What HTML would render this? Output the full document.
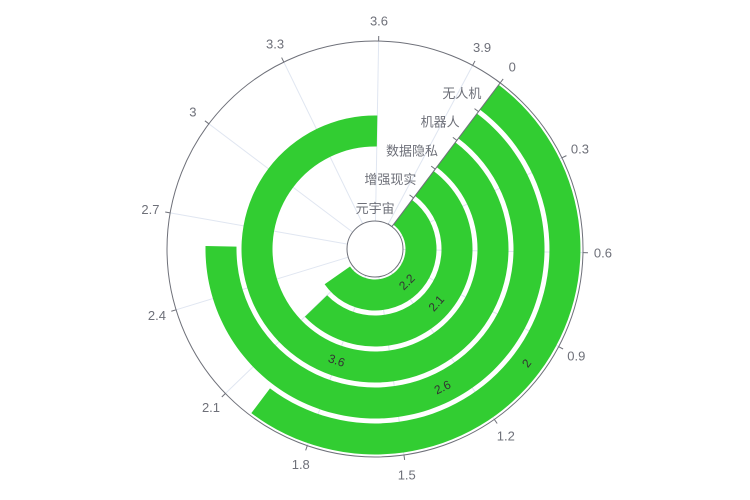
<!DOCTYPE html>
<html><head><meta charset="utf-8"><style>
body{margin:0;background:#fff;}
svg{display:block;font-family:"Liberation Sans","Noto Sans CJK SC",sans-serif;}
</style></head><body>
<svg id="chart" width="750" height="500" viewBox="0 0 750 500"></svg>
<script>
const categories = ['元宇宙','增强现实','数据隐私','机器人','无人机'];
const values = [2.2, 2.1, 3.6, 2.6, 2];
const angleTicks = [0,0.3,0.6,0.9,1.2,1.5,1.8,2.1,2.4,2.7,3,3.3,3.6,3.9];
const angleMax = 4;

const NS='http://www.w3.org/2000/svg';
const svg=document.getElementById('chart');
const cx=375, cy=249, r0=28, R=208, start=37;
const band=(R-r0)/categories.length;
function ang(v){return start+v/angleMax*360;}
function pt(r,deg){const t=deg*Math.PI/180;return [cx+r*Math.sin(t), cy-r*Math.cos(t)];}
function mk(tag,attrs,parent){const e=document.createElementNS(NS,tag);for(const k in attrs)e.setAttribute(k,attrs[k]);(parent||svg).appendChild(e);return e;}

angleTicks.forEach(v=>{
  const a=pt(r0,ang(v)), b=pt(R,ang(v));
  const l=mk('line',{x1:a[0],y1:a[1],x2:b[0],y2:b[1],stroke:'#e0e6f1','stroke-width':1});
  
  
});

values.forEach((v,i)=>{
  const ri=r0+band*i+2.5, ro=r0+band*(i+1)-2.5;
  const a0=ang(0), a1=ang(v);
  const large=(a1-a0)>180?1:0;
  const p1=pt(ro,a0),p2=pt(ro,a1),p3=pt(ri,a1),p4=pt(ri,a0);
  const d=`M${p1[0]},${p1[1]} A${ro},${ro} 0 ${large} 1 ${p2[0]},${p2[1]} L${p3[0]},${p3[1]} A${ri},${ri} 0 ${large} 0 ${p4[0]},${p4[1]} Z`;
  const b=mk('path',{d:d,fill:'#32cd32'});
  
  
  const am=ang(v/2), rm=(ri+ro)/2, lp=pt(rm,am);
  const t=mk('text',{x:lp[0],y:lp[1],'text-anchor':'middle','dominant-baseline':'central','font-size':12,fill:'#333',transform:`rotate(${am-180} ${lp[0]} ${lp[1]})`});
  t.textContent=v;
  
  
});

const oc=mk('circle',{cx:cx,cy:cy,r:R,fill:'none',stroke:'#6e7079','stroke-width':1});


const ic=mk('circle',{cx:cx,cy:cy,r:r0,fill:'#fff',stroke:'#6e7079','stroke-width':1});



angleTicks.forEach(v=>{
  const a=pt(R,ang(v)), b=pt(R+5,ang(v)), c=pt(R+20,ang(v));
  const tk=mk('line',{x1:a[0],y1:a[1],x2:b[0],y2:b[1],stroke:'#6e7079'});
  
  
  const t=mk('text',{x:c[0],y:c[1],'text-anchor':'middle','dominant-baseline':'central','font-size':13,fill:'#6e7079'});
  t.textContent=v;
  
  
});

const ra=pt(r0,start), rb=pt(R,start);
const ax=mk('line',{x1:ra[0],y1:ra[1],x2:rb[0],y2:rb[1],stroke:'#6e7079'});


const tr=start*Math.PI/180, nx=-Math.cos(tr), ny=-Math.sin(tr);
for(let i=0;i<=categories.length;i++){
  const p=pt(r0+band*i,start);
  const tk=mk('line',{x1:p[0],y1:p[1],x2:p[0]+nx*5,y2:p[1]+ny*5,stroke:'#6e7079'});
  
  
}
categories.forEach((c,i)=>{
  const p=pt(r0+band*(i+0.5),start);
  const t=mk('text',{x:p[0]-8,y:p[1]-4,'text-anchor':'end','dominant-baseline':'central','font-size':13,fill:'#6e7079'});
  t.textContent=c;
  
  
});
</script>
</body></html>
